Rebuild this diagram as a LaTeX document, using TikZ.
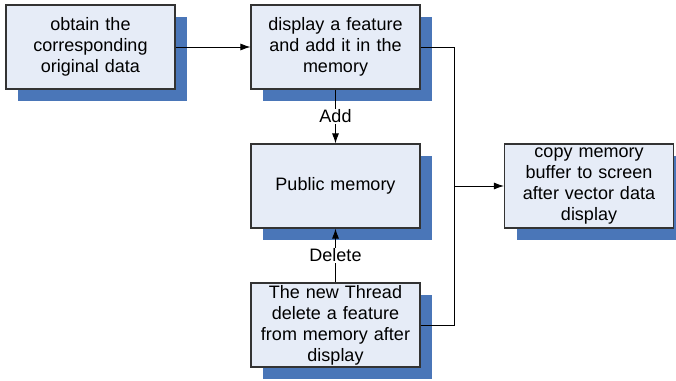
\documentclass[tikz,border=0pt]{standalone}
\usepackage{fontspec}
\setmainfont{Liberation Sans}
\usetikzlibrary{shadows,arrows.meta}
\definecolor{boxfill}{HTML}{E6ECF7}
\definecolor{shadowblue}{HTML}{4A76B8}
\definecolor{boxline}{HTML}{333333}
\begin{document}
\begin{tikzpicture}[x=1pt,y=-1pt,
  stepbox/.style={draw=boxline, line width=1.1pt, fill=boxfill,
    minimum width=169pt, minimum height=84pt, inner sep=2pt,
    text width=165pt, align=center,
    font=\fontsize{18}{21}\selectfont,
    general shadow={fill=shadowblue, shadow xshift=12pt, shadow yshift=-12pt}},
  conn/.style={draw=black, line width=0.9pt},
  arr/.style={conn, -{Latex[length=10pt,width=7pt]}},
  lbl/.style={fill=white, inner sep=1pt, font=\fontsize{18}{21}\selectfont}]
\useasboundingbox (0,0) rectangle (676,380);
\node[stepbox] (b1) at (90.5,47) {obtain the\\corresponding\\original data};
\node[stepbox] (b2) at (335.5,47) {display a feature\\and add it in the\\memory};
\node[stepbox] (b3) at (335.5,186) {Public memory};
\node[stepbox] (b4) at (335.5,325) {The new Thread\\delete a feature\\from memory after\\display};
\node[stepbox] (b5) at (589,186) {copy memory\\buffer to screen\\after vector data\\display};
\coordinate (j) at (454,186);
\draw[arr] (b1.east) -- (b2.west);
\draw[conn] (b2.east) -| (j);
\draw[conn] (b4.east) -| (j);
\draw[arr] (j) -- (b5.west);
\draw[arr] (b2.south) -- node[lbl] {Add} (b3.north);
\draw[arr] (b4.north) -- node[lbl, pos=0.5] {Delete} (b3.south);
\end{tikzpicture}
\end{document}
